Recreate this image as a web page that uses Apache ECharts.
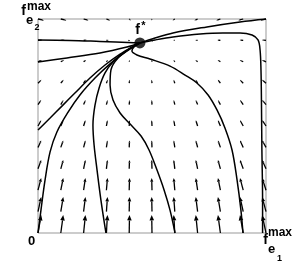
<!DOCTYPE html>
<html><head><meta charset="utf-8">
<script src="https://cdn.jsdelivr.net/npm/echarts@6/dist/echarts.min.js"></script>
<style>html,body{margin:0;padding:0;background:#fff}#c{width:294px;height:262px}</style>
</head><body><div id="c"></div>
<script>
// Vector-field sample grid
const gridX = [0, 0.1, 0.2, 0.3, 0.4, 0.5, 0.6, 0.7, 0.8, 0.9, 1.0];
const gridY = [0, 0.1, 0.2, 0.3, 0.4, 0.5, 0.6, 0.7, 0.8, 0.9, 1.0];
// horizontal components, one row per gridY value (bottom to top), read from the arrows
const uRow0  = [0.30, 0.23, 0.17, 0.10, 0.03, -0.03, -0.10, -0.17, -0.23, -0.30, -0.36];
const uRow1  = [0.30, 0.23, 0.17, 0.10, 0.03, -0.03, -0.10, -0.17, -0.23, -0.30, -0.36];
const uRow2  = [0.30, 0.23, 0.17, 0.10, 0.03, -0.03, -0.10, -0.17, -0.23, -0.30, -0.36];
const uRow3  = [0.30, 0.23, 0.17, 0.10, 0.03, -0.03, -0.10, -0.17, -0.23, -0.30, -0.36];
const uRow4  = [0.30, 0.23, 0.17, 0.10, 0.03, -0.03, -0.10, -0.17, -0.23, -0.30, -0.36];
const uRow5  = [0.30, 0.23, 0.17, 0.10, 0.03, -0.03, -0.10, -0.17, -0.23, -0.30, -0.36];
const uRow6  = [0.30, 0.24, 0.18, 0.11, 0.04, -0.03, -0.10, -0.17, -0.23, -0.30, -0.36];
const uRow7  = [0.32, 0.26, 0.20, 0.12, 0.04, -0.04, -0.11, -0.18, -0.24, -0.31, -0.37];
const uRow8  = [0.36, 0.30, 0.23, 0.15, 0.05, -0.04, -0.12, -0.20, -0.26, -0.32, -0.37];
const uRow9  = [0.42, 0.37, 0.30, 0.22, 0.08, -0.05, -0.15, -0.22, -0.28, -0.33, -0.38];
const uRow10 = [0.55, 0.52, 0.45, 0.35, 0.15, -0.05, -0.20, -0.30, -0.38, -0.45, -0.50];
const fieldU = [uRow0, uRow1, uRow2, uRow3, uRow4, uRow5, uRow6, uRow7, uRow8, uRow9, uRow10];
// vertical component per row (bottom to top)
const rowV = [1.80, 1.46, 1.22, 0.88, 0.70, 0.58, 0.45, 0.34, 0.18, 0.03, -0.14];
const arrowScale = 0.0467;

// Equilibrium point
const fStar = [0.447, 0.888];

// Trajectories (data coordinates)
const trajA = [[0,0],[0.013,0.107],[0.031,0.248],[0.053,0.379],[0.083,0.472],[0.132,0.565],[0.184,0.645],[0.250,0.724],[0.316,0.790],[0.382,0.846],[0.447,0.888]];
const trajB = [[0,0.481],[0.053,0.537],[0.105,0.593],[0.162,0.654],[0.228,0.724],[0.294,0.785],[0.360,0.836],[0.412,0.869],[0.447,0.888]];
const trajC = [[0.298,0],[0.276,0.154],[0.259,0.294],[0.246,0.411],[0.241,0.505],[0.250,0.598],[0.268,0.678],[0.294,0.748],[0.329,0.799],[0.386,0.850],[0.447,0.888]];
const trajD = [[0.601,0],[0.579,0.107],[0.553,0.201],[0.522,0.294],[0.487,0.388],[0.452,0.453],[0.404,0.509],[0.360,0.561],[0.329,0.621],[0.316,0.692],[0.320,0.762],[0.351,0.818],[0.404,0.860],[0.447,0.888]];
const trajE = [[0.899,0],[0.890,0.107],[0.873,0.248],[0.851,0.388],[0.820,0.491],[0.785,0.575],[0.746,0.645],[0.697,0.701],[0.645,0.738],[0.579,0.780],[0.491,0.813],[0.434,0.832],[0.412,0.850],[0.421,0.869],[0.447,0.888]];
const trajF = [[0.985,0],[0.985,0.154],[0.982,0.388],[0.980,0.621],[0.978,0.762],[0.974,0.855],[0.965,0.902],[0.939,0.925],[0.886,0.935],[0.811,0.935],[0.711,0.930],[0.592,0.916],[0.513,0.902],[0.447,0.888]];
const trajG = [[1,1],[0.886,0.986],[0.741,0.963],[0.592,0.935],[0.513,0.911],[0.447,0.888]];
const trajH = [[0,0.902],[0.140,0.900],[0.272,0.895],[0.447,0.888]];
const trajI = [[0,0.799],[0.127,0.818],[0.272,0.841],[0.390,0.869],[0.447,0.888]];
const trajectories = [trajA, trajB, trajC, trajD, trajE, trajF, trajG, trajH, trajI];

const field = [];
gridY.forEach((y, j) => gridX.forEach((x, i) => field.push([x, y, fieldU[j][i], rowV[j]])));

const chart = echarts.init(document.getElementById('c'), null, {renderer: 'canvas'});
const FONT = 'Liberation Sans, Arial, sans-serif';
const series = trajectories.map(t => ({
  type: 'line', data: t, showSymbol: false, smooth: 0.35, silent: true,
  lineStyle: {color: '#000', width: 1.5}, z: 3
}));
series.push({
  type: 'custom', data: field, z: 2, silent: true,
  renderItem(params, api) {
    const x = api.value(0), y = api.value(1), u = api.value(2), v = api.value(3);
    const p0 = api.coord([x, y]);
    const p1 = api.coord([x + u * arrowScale, y + v * arrowScale]);
    const dx = p1[0] - p0[0], dy = p1[1] - p0[1];
    const L = Math.hypot(dx, dy);
    if (L < 0.5) return null;
    const ux = dx / L, uy = dy / L;
    const hl = Math.max(1.5, L * 0.3), hw = hl * 0.42;
    const bx = p1[0] - ux * hl, by = p1[1] - uy * hl;
    return {type: 'group', children: [
      {type: 'line', shape: {x1: p0[0], y1: p0[1], x2: bx, y2: by}, style: {stroke: '#000', lineWidth: 1.3}},
      {type: 'polygon', shape: {points: [[p1[0], p1[1]], [bx - uy * hw, by + ux * hw], [bx + uy * hw, by - ux * hw]]}, style: {fill: '#000'}}
    ]};
  }
});
series.push({type: 'scatter', data: [fStar], symbolSize: 11, itemStyle: {color: '#000'}, z: 4, silent: true});

function txt(text, x, y, size, align) {
  return {type: 'text', x: x, y: y, style: {text: text, fill: '#000', fontSize: size, fontWeight: 'bold', fontFamily: FONT, textAlign: align || 'center', textVerticalAlign: 'middle'}};
}

chart.setOption({
  animation: false,
  grid: {left: 38, top: 19, width: 228, height: 214, show: true, borderColor: '#999', borderWidth: 1},
  xAxis: {type: 'value', min: 0, max: 1, axisLine: {show: false}, axisTick: {show: false}, axisLabel: {show: false}, splitLine: {show: false}},
  yAxis: {type: 'value', min: 0, max: 1, axisLine: {show: false}, axisTick: {show: false}, axisLabel: {show: false}, splitLine: {show: false}},
  series: series,
  graphic: [
    txt('0', 31.5, 241, 13),
    txt('f', 265.5, 240, 14),
    txt('max', 268, 233, 12, 'left'),
    txt('e', 268, 249, 13, 'left'),
    txt('1', 277, 258.5, 9, 'left'),
    txt('f', 23.5, 11, 14),
    txt('max', 27, 7, 12, 'left'),
    txt('e', 26, 20.5, 13, 'left'),
    txt('2', 34.5, 28, 9, 'left'),
    txt('f', 137.5, 30, 14),
    txt('*', 143.5, 26, 11)
  ]
});
</script></body></html>
